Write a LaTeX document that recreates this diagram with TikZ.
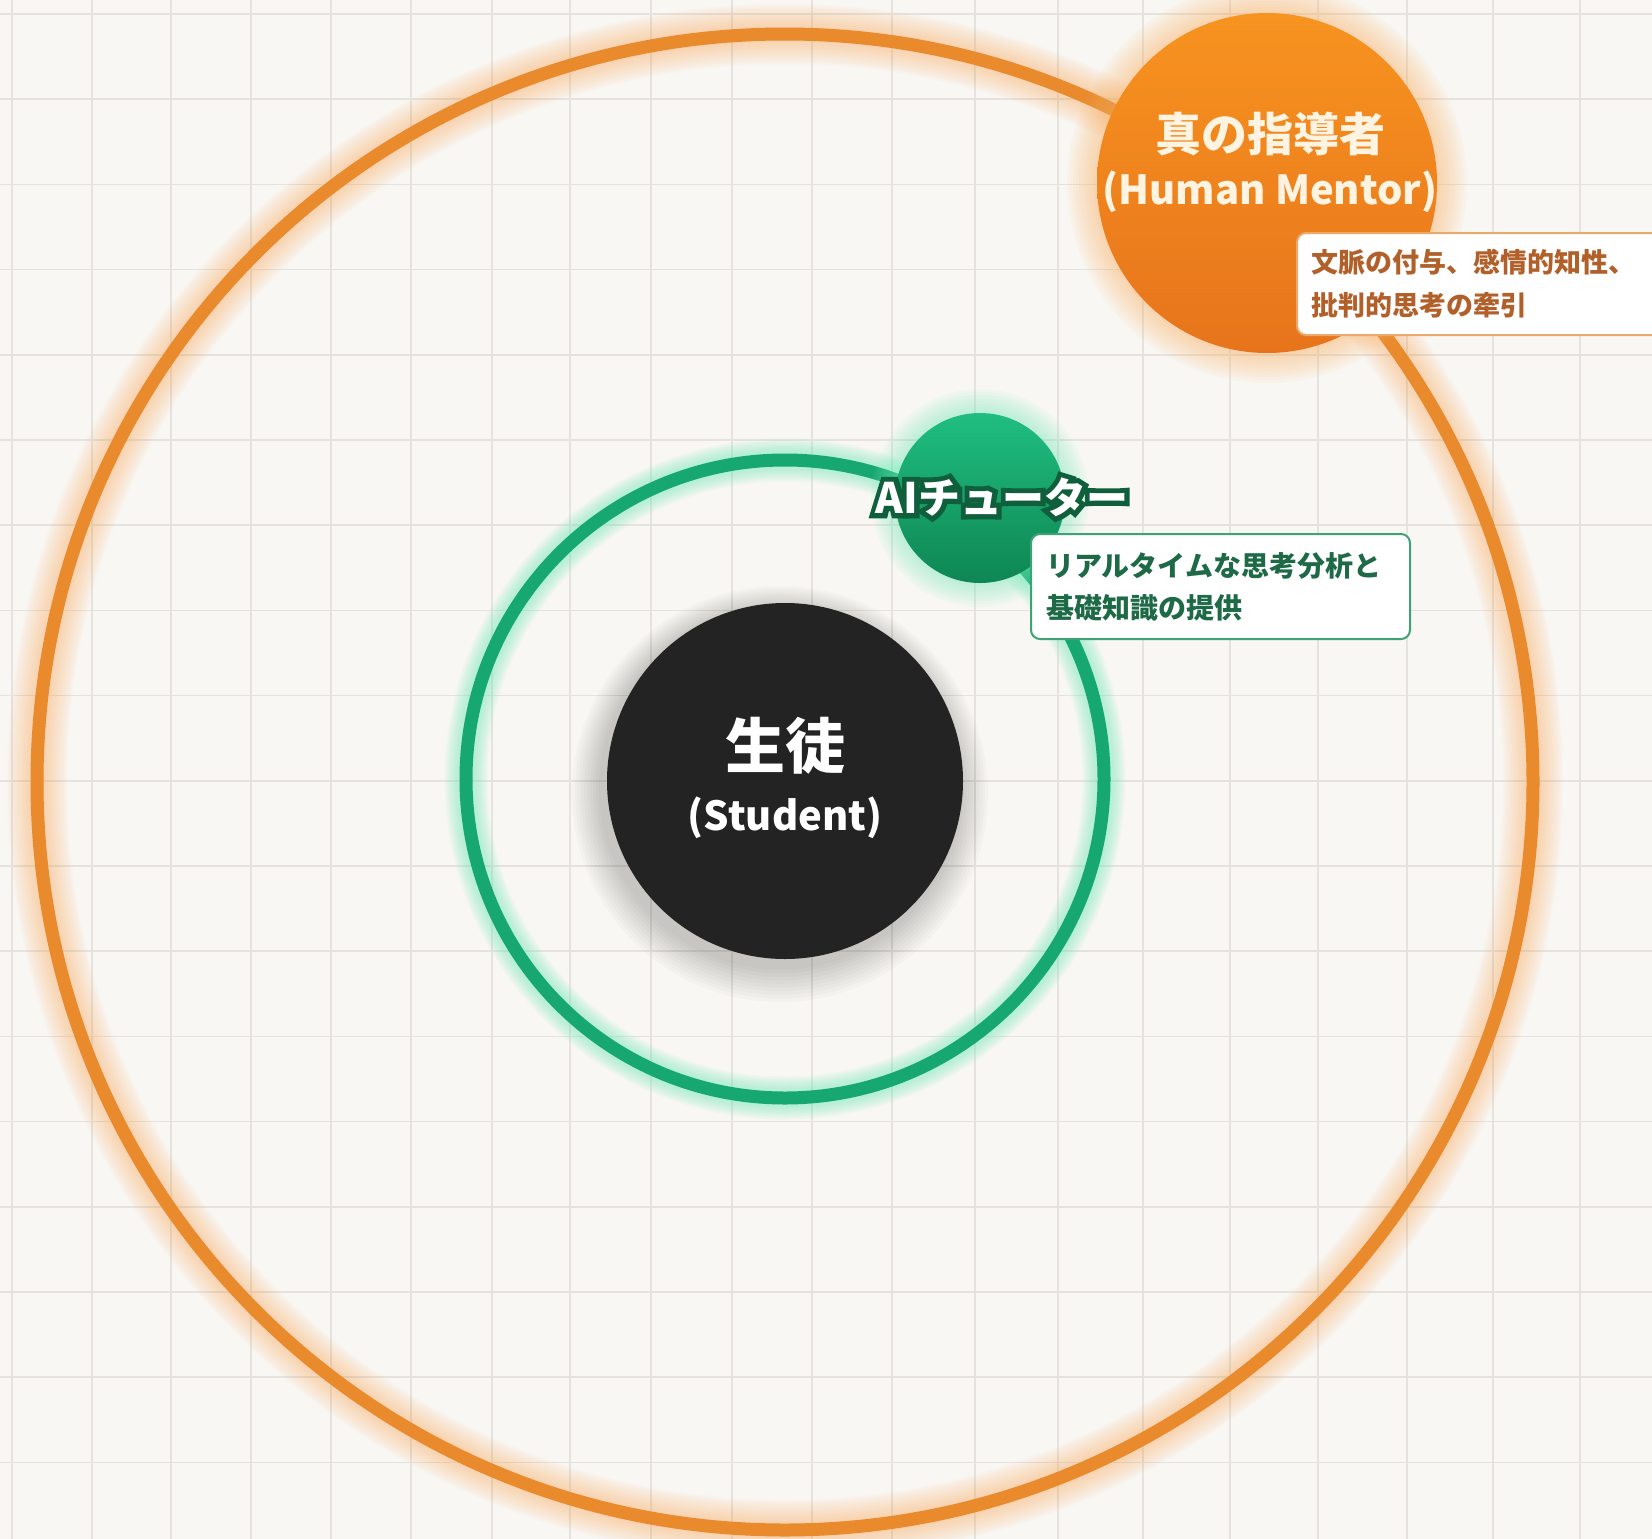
\documentclass[tikz,border=0pt]{standalone}
\usepackage{fontspec}
\setmainfont{Noto Sans CJK JP}
\newfontfamily\outlinefont{Noto Sans CJK JP}[BoldFeatures={FakeBold=24}]
\definecolor{bgc}{HTML}{F8F7F3}
\definecolor{gridc}{HTML}{E6E3DE}
\definecolor{orring}{HTML}{E98A2C}
\definecolor{orglow}{HTML}{FBB56A}
\definecolor{ortop}{HTML}{F7931F}
\definecolor{orbot}{HTML}{E7741C}
\definecolor{ortext}{HTML}{FFF3E2}
\definecolor{orlabel}{HTML}{B2602A}
\definecolor{orborder}{HTML}{EAA86C}
\definecolor{grring}{HTML}{17A872}
\definecolor{grglow}{HTML}{7EEFC0}
\definecolor{grtop}{HTML}{20BE80}
\definecolor{grbot}{HTML}{0E8653}
\definecolor{grdark}{HTML}{0F5E3C}
\definecolor{grlabel}{HTML}{1E6A47}
\definecolor{grborder}{HTML}{3FA275}
\definecolor{blk}{HTML}{232323}
\tikzset{
  gridline/.style={draw=gridc, line width=1.5pt},
  labelbox/.style={rectangle, rounded corners=9pt, fill=white, line width=2pt, anchor=north west, align=left, inner ysep=0pt},
  ctext/.style={inner sep=0pt, anchor=center}
}
\begin{document}
\begin{tikzpicture}[x=1pt,y=-1pt]
\useasboundingbox (0,0) rectangle (1652,1539);
\fill[bgc] (0,0) rectangle (1652,1539);
% grid
\foreach \x in {12,92,171,251,331,411,492,570,651,732,812,892,975,1058,1143,1230,1318,1407,1493,1580}
  \draw[gridline] (\x,0) -- (\x,1539);
\foreach \k in {0,...,17}
  \draw[gridline] (0,{14+85.2*\k}) -- (1652,{14+85.2*\k});
% orange ring
\coordinate (C) at (785,782);
\foreach \i in {1,...,16}
  \draw[orglow, line width={13+3*\i}, opacity=0.035] (C) circle[radius=748];
\draw[orring, line width=13] (C) circle[radius=748];
% green ring
\coordinate (G) at (785,779);
\foreach \i in {1,...,10}
  \draw[grglow, line width={13+3*\i}, opacity=0.07] (G) circle[radius=319];
\draw[grring, line width=13] (G) circle[radius=319];
% student
\foreach \i in {1,...,10}
  \fill[black, opacity=0.018] (780,{788+\i*0.6}) circle[radius={178+3*\i}];
\node[circle, fill=blk, minimum size=356, inner sep=0pt] (student) at (785,781) {};
\node[ctext, text=white, font=\bfseries\fontsize{60}{70}\selectfont] (studentjp) at (785,746) {生徒};
\node[ctext, text=white, font=\bfseries\fontsize{40}{48}\selectfont] (studenten) at (785,818) {(Student)};
% human mentor
\foreach \i in {1,...,10}
  \fill[orglow, opacity=0.06] (1267,183) circle[radius={170+3*\i}];
\node[circle, top color=ortop, bottom color=orbot, minimum size=340, inner sep=0pt] (mentor) at (1267,183) {};
\node[ctext, text=ortext, font=\bfseries\fontsize{46}{54}\selectfont] (mentorjp) at (1270,134) {真の指導者};
\node[ctext, text=ortext, font=\bfseries\fontsize{40}{48}\selectfont] (mentoren) at (1270,192) {(Human Mentor)};
\node[labelbox, draw=orborder, text=orlabel, text width=380, minimum height=102, inner xsep=14pt,
      font=\bfseries\fontsize{27}{43}\selectfont] (mentorlabel) at (1296,232)
  {文脈の付与、感情的知性、\\批判的思考の牽引};
% AI tutor
\foreach \i in {1,...,8}
  \fill[grglow, opacity=0.07] (980,498) circle[radius={85+3*\i}];
\node[circle, top color=grtop, bottom color=grbot, minimum size=170, inner sep=0pt] (tutor) at (980,498) {};
\node[ctext, font=\fontsize{42}{50}\selectfont] (tutortext) at (1002,497)
  {\rlap{\outlinefont\bfseries\color{grdark}AIチューター}{\bfseries\color{white}AIチューター}};
\node[labelbox, draw=grborder, text=grlabel, text width=349, minimum height=105, inner xsep=15pt,
      font=\bfseries\fontsize{28}{42}\selectfont] (tutorlabel) at (1030,533)
  {リアルタイムな思考分析と\\基礎知識の提供};
\end{tikzpicture}
\end{document}
